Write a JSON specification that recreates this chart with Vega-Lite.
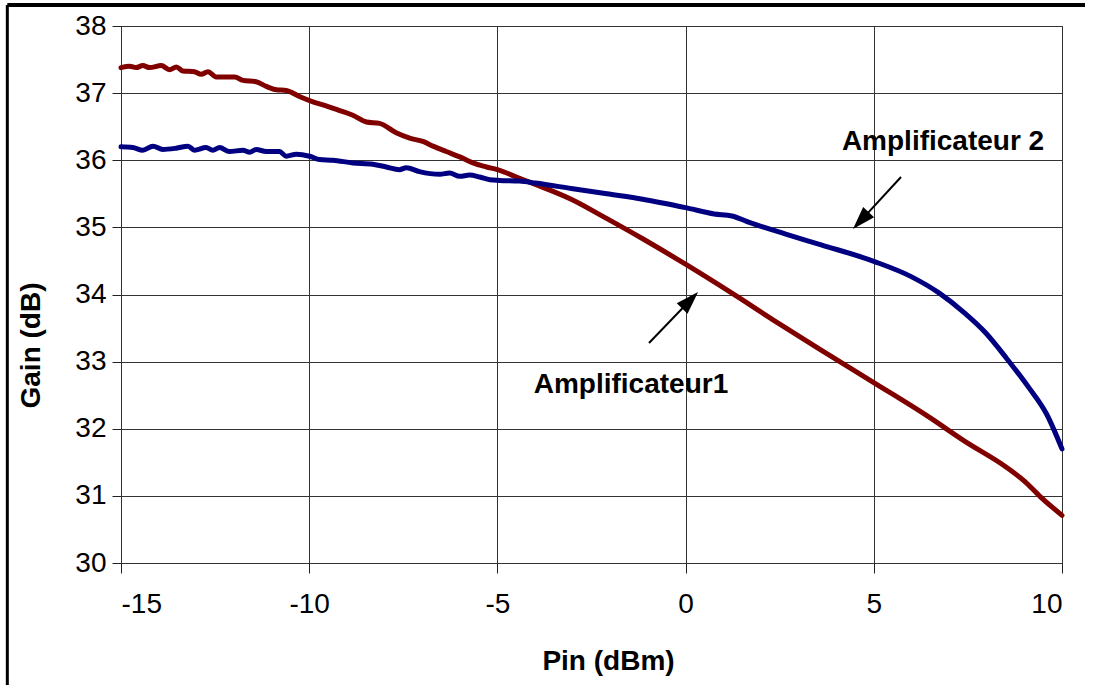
{
  "$schema": "https://vega.github.io/schema/vega-lite/v6.json",
  "autosize": "none",
  "width": 941,
  "height": 537,
  "padding": {"left": 121, "top": 26, "right": 32, "bottom": 122},
  "background": "white",
  "config": {
    "view": {"stroke": "#333", "strokeWidth": 1},
    "axis": {
      "labelFont": "Liberation Sans",
      "labelFontSize": 28,
      "labelColor": "black",
      "titleFont": "Liberation Sans",
      "titleFontSize": 28,
      "titleFontWeight": "bold",
      "titleColor": "black",
      "gridColor": "#333",
      "gridOpacity": 1,
      "gridWidth": 1,
      "tickColor": "#222",
      "domainColor": "#333"
    }
  },
  "datasets": {
    "gain": [
      {"pin": -15.0, "gain": 37.38, "amp": "Amplificateur1"},
      {"pin": -14.77, "gain": 37.40, "amp": "Amplificateur1"},
      {"pin": -14.60, "gain": 37.38, "amp": "Amplificateur1"},
      {"pin": -14.42, "gain": 37.41, "amp": "Amplificateur1"},
      {"pin": -14.24, "gain": 37.38, "amp": "Amplificateur1"},
      {"pin": -13.93, "gain": 37.41, "amp": "Amplificateur1"},
      {"pin": -13.71, "gain": 37.35, "amp": "Amplificateur1"},
      {"pin": -13.53, "gain": 37.39, "amp": "Amplificateur1"},
      {"pin": -13.36, "gain": 37.33, "amp": "Amplificateur1"},
      {"pin": -13.05, "gain": 37.32, "amp": "Amplificateur1"},
      {"pin": -12.87, "gain": 37.28, "amp": "Amplificateur1"},
      {"pin": -12.69, "gain": 37.32, "amp": "Amplificateur1"},
      {"pin": -12.47, "gain": 37.24, "amp": "Amplificateur1"},
      {"pin": -11.98, "gain": 37.24, "amp": "Amplificateur1"},
      {"pin": -11.76, "gain": 37.19, "amp": "Amplificateur1"},
      {"pin": -11.41, "gain": 37.17, "amp": "Amplificateur1"},
      {"pin": -11.14, "gain": 37.10, "amp": "Amplificateur1"},
      {"pin": -10.87, "gain": 37.05, "amp": "Amplificateur1"},
      {"pin": -10.61, "gain": 37.04, "amp": "Amplificateur1"},
      {"pin": -10.26, "gain": 36.95, "amp": "Amplificateur1"},
      {"pin": -9.90, "gain": 36.87, "amp": "Amplificateur1"},
      {"pin": -9.55, "gain": 36.81, "amp": "Amplificateur1"},
      {"pin": -9.19, "gain": 36.74, "amp": "Amplificateur1"},
      {"pin": -8.84, "gain": 36.67, "amp": "Amplificateur1"},
      {"pin": -8.48, "gain": 36.57, "amp": "Amplificateur1"},
      {"pin": -8.13, "gain": 36.55, "amp": "Amplificateur1"},
      {"pin": -7.69, "gain": 36.41, "amp": "Amplificateur1"},
      {"pin": -7.33, "gain": 36.33, "amp": "Amplificateur1"},
      {"pin": -6.98, "gain": 36.28, "amp": "Amplificateur1"},
      {"pin": -6.71, "gain": 36.21, "amp": "Amplificateur1"},
      {"pin": -6.36, "gain": 36.13, "amp": "Amplificateur1"},
      {"pin": -6.00, "gain": 36.05, "amp": "Amplificateur1"},
      {"pin": -5.65, "gain": 35.96, "amp": "Amplificateur1"},
      {"pin": -5.29, "gain": 35.90, "amp": "Amplificateur1"},
      {"pin": -5.00, "gain": 35.86, "amp": "Amplificateur1"},
      {"pin": -4.41, "gain": 35.73, "amp": "Amplificateur1"},
      {"pin": -3.99, "gain": 35.64, "amp": "Amplificateur1"},
      {"pin": -3.04, "gain": 35.42, "amp": "Amplificateur1"},
      {"pin": -2.09, "gain": 35.13, "amp": "Amplificateur1"},
      {"pin": -1.14, "gain": 34.83, "amp": "Amplificateur1"},
      {"pin": 0.03, "gain": 34.44, "amp": "Amplificateur1"},
      {"pin": 1.23, "gain": 34.02, "amp": "Amplificateur1"},
      {"pin": 2.47, "gain": 33.57, "amp": "Amplificateur1"},
      {"pin": 3.60, "gain": 33.17, "amp": "Amplificateur1"},
      {"pin": 5.02, "gain": 32.68, "amp": "Amplificateur1"},
      {"pin": 6.45, "gain": 32.18, "amp": "Amplificateur1"},
      {"pin": 7.40, "gain": 31.82, "amp": "Amplificateur1"},
      {"pin": 8.54, "gain": 31.42, "amp": "Amplificateur1"},
      {"pin": 9.00, "gain": 31.22, "amp": "Amplificateur1"},
      {"pin": 9.42, "gain": 30.99, "amp": "Amplificateur1"},
      {"pin": 10.0, "gain": 30.71, "amp": "Amplificateur1"},

      {"pin": -15.0, "gain": 36.20, "amp": "Amplificateur2"},
      {"pin": -14.69, "gain": 36.19, "amp": "Amplificateur2"},
      {"pin": -14.42, "gain": 36.15, "amp": "Amplificateur2"},
      {"pin": -14.15, "gain": 36.21, "amp": "Amplificateur2"},
      {"pin": -13.89, "gain": 36.16, "amp": "Amplificateur2"},
      {"pin": -13.53, "gain": 36.18, "amp": "Amplificateur2"},
      {"pin": -13.22, "gain": 36.21, "amp": "Amplificateur2"},
      {"pin": -13.05, "gain": 36.15, "amp": "Amplificateur2"},
      {"pin": -12.74, "gain": 36.19, "amp": "Amplificateur2"},
      {"pin": -12.56, "gain": 36.15, "amp": "Amplificateur2"},
      {"pin": -12.38, "gain": 36.19, "amp": "Amplificateur2"},
      {"pin": -12.12, "gain": 36.13, "amp": "Amplificateur2"},
      {"pin": -11.76, "gain": 36.15, "amp": "Amplificateur2"},
      {"pin": -11.58, "gain": 36.12, "amp": "Amplificateur2"},
      {"pin": -11.41, "gain": 36.16, "amp": "Amplificateur2"},
      {"pin": -11.14, "gain": 36.13, "amp": "Amplificateur2"},
      {"pin": -10.79, "gain": 36.13, "amp": "Amplificateur2"},
      {"pin": -10.61, "gain": 36.06, "amp": "Amplificateur2"},
      {"pin": -10.34, "gain": 36.09, "amp": "Amplificateur2"},
      {"pin": -9.99, "gain": 36.06, "amp": "Amplificateur2"},
      {"pin": -9.72, "gain": 36.01, "amp": "Amplificateur2"},
      {"pin": -9.37, "gain": 36.00, "amp": "Amplificateur2"},
      {"pin": -8.84, "gain": 35.96, "amp": "Amplificateur2"},
      {"pin": -8.31, "gain": 35.94, "amp": "Amplificateur2"},
      {"pin": -7.95, "gain": 35.90, "amp": "Amplificateur2"},
      {"pin": -7.60, "gain": 35.86, "amp": "Amplificateur2"},
      {"pin": -7.42, "gain": 35.89, "amp": "Amplificateur2"},
      {"pin": -7.07, "gain": 35.83, "amp": "Amplificateur2"},
      {"pin": -6.53, "gain": 35.79, "amp": "Amplificateur2"},
      {"pin": -6.27, "gain": 35.81, "amp": "Amplificateur2"},
      {"pin": -6.00, "gain": 35.76, "amp": "Amplificateur2"},
      {"pin": -5.74, "gain": 35.78, "amp": "Amplificateur2"},
      {"pin": -5.47, "gain": 35.75, "amp": "Amplificateur2"},
      {"pin": -5.20, "gain": 35.71, "amp": "Amplificateur2"},
      {"pin": -4.94, "gain": 35.70, "amp": "Amplificateur2"},
      {"pin": -4.41, "gain": 35.69, "amp": "Amplificateur2"},
      {"pin": -3.99, "gain": 35.66, "amp": "Amplificateur2"},
      {"pin": -3.04, "gain": 35.58, "amp": "Amplificateur2"},
      {"pin": -2.09, "gain": 35.50, "amp": "Amplificateur2"},
      {"pin": -1.14, "gain": 35.42, "amp": "Amplificateur2"},
      {"pin": 0.03, "gain": 35.29, "amp": "Amplificateur2"},
      {"pin": 0.76, "gain": 35.20, "amp": "Amplificateur2"},
      {"pin": 1.23, "gain": 35.17, "amp": "Amplificateur2"},
      {"pin": 1.71, "gain": 35.07, "amp": "Amplificateur2"},
      {"pin": 2.66, "gain": 34.90, "amp": "Amplificateur2"},
      {"pin": 3.60, "gain": 34.74, "amp": "Amplificateur2"},
      {"pin": 5.02, "gain": 34.49, "amp": "Amplificateur2"},
      {"pin": 5.98, "gain": 34.27, "amp": "Amplificateur2"},
      {"pin": 6.74, "gain": 34.02, "amp": "Amplificateur2"},
      {"pin": 7.40, "gain": 33.73, "amp": "Amplificateur2"},
      {"pin": 7.97, "gain": 33.43, "amp": "Amplificateur2"},
      {"pin": 8.54, "gain": 33.04, "amp": "Amplificateur2"},
      {"pin": 9.11, "gain": 32.62, "amp": "Amplificateur2"},
      {"pin": 9.59, "gain": 32.22, "amp": "Amplificateur2"},
      {"pin": 10.0, "gain": 31.70, "amp": "Amplificateur2"}
    ]
  },
  "layer": [
    {
      "data": {"name": "gain"},
      "mark": {"type": "line", "strokeWidth": 5, "interpolate": "monotone", "strokeJoin": "round", "strokeCap": "round", "clip": false},
      "encoding": {
        "x": {
          "field": "pin", "type": "quantitative",
          "scale": {"domain": [-15, 10], "nice": false, "zero": false},
          "axis": {
            "values": [-15, -10, -5, 0, 5, 10],
            "labelExpr": "'' + datum.value",
            "title": "Pin (dBm)",
            "tickSize": 10,
            "labelPadding": 17,
            "labelDx": 8,
            "domain": false,
            "grid": true,
            "titleX": 487,
            "titleY": 98,
            "titleBaseline": "middle",
            "titleAlign": "center"
          }
        },
        "y": {
          "field": "gain", "type": "quantitative",
          "scale": {"domain": [30, 38], "nice": false, "zero": false},
          "axis": {
            "values": [30, 31, 32, 33, 34, 35, 36, 37, 38],
            "labelExpr": "'' + datum.value",
            "title": "Gain (dB)",
            "tickSize": 9,
            "labelPadding": 6,
            "domain": true,
            "grid": true,
            "titleX": -90,
            "titleY": 319,
            "titleAngle": -90,
            "titleBaseline": "middle",
            "titleAlign": "center"
          }
        },
        "color": {
          "field": "amp", "type": "nominal",
          "scale": {"domain": ["Amplificateur1", "Amplificateur2"], "range": ["#800000", "#000080"]},
          "legend": null
        },
        "detail": {"field": "amp"}
      }
    },
    {
      "data": {"values": [{}]},
      "mark": {"type": "text", "text": "Amplificateur1", "font": "Liberation Sans", "fontSize": 28, "fontWeight": "bold", "align": "center", "baseline": "alphabetic", "color": "black"},
      "encoding": {"x": {"datum": -1.451, "type": "quantitative"}, "y": {"datum": 32.533, "type": "quantitative"}}
    },
    {
      "data": {"values": [{}]},
      "mark": {"type": "text", "text": "Amplificateur 2", "font": "Liberation Sans", "fontSize": 28, "fontWeight": "bold", "align": "center", "baseline": "alphabetic", "color": "black"},
      "encoding": {"x": {"datum": 6.839, "type": "quantitative"}, "y": {"datum": 36.153, "type": "quantitative"}}
    },
    {
      "data": {"values": [{}]},
      "mark": {"type": "rule", "color": "black", "strokeWidth": 2},
      "encoding": {
        "x": {"datum": -0.972, "type": "quantitative"}, "y": {"datum": 33.277, "type": "quantitative"},
        "x2": {"datum": 0.120}, "y2": {"datum": 33.914}
      }
    },
    {
      "data": {"values": [{}]},
      "mark": {"type": "rule", "color": "black", "strokeWidth": 2},
      "encoding": {
        "x": {"datum": 5.723, "type": "quantitative"}, "y": {"datum": 35.750, "type": "quantitative"},
        "x2": {"datum": 4.655}, "y2": {"datum": 35.101}
      }
    },
    {
      "data": {"values": [{}]},
      "mark": {"type": "point", "shape": "M0,-1L0.65,1L-0.65,1Z", "filled": true, "color": "black", "opacity": 1, "size": 529, "angle": 44},
      "encoding": {"x": {"datum": 0.120, "type": "quantitative"}, "y": {"datum": 33.914, "type": "quantitative"}}
    },
    {
      "data": {"values": [{}]},
      "mark": {"type": "point", "shape": "M0,-1L0.65,1L-0.65,1Z", "filled": true, "color": "black", "opacity": 1, "size": 529, "angle": 223},
      "encoding": {"x": {"datum": 4.655, "type": "quantitative"}, "y": {"datum": 35.101, "type": "quantitative"}}
    },
    {
      "data": {"values": [{}]},
      "mark": {"type": "rule", "color": "black", "strokeWidth": 4},
      "encoding": {
        "x": {"datum": -18.02, "type": "quantitative"}, "y": {"datum": 38.313, "type": "quantitative"},
        "x2": {"datum": 10.611}
      }
    },
    {
      "data": {"values": [{}]},
      "mark": {"type": "rule", "color": "black", "strokeWidth": 3},
      "encoding": {
        "x": {"datum": -18.02, "type": "quantitative"}, "y": {"datum": 38.313, "type": "quantitative"},
        "y2": {"datum": 27.9}
      }
    }
  ]
}
